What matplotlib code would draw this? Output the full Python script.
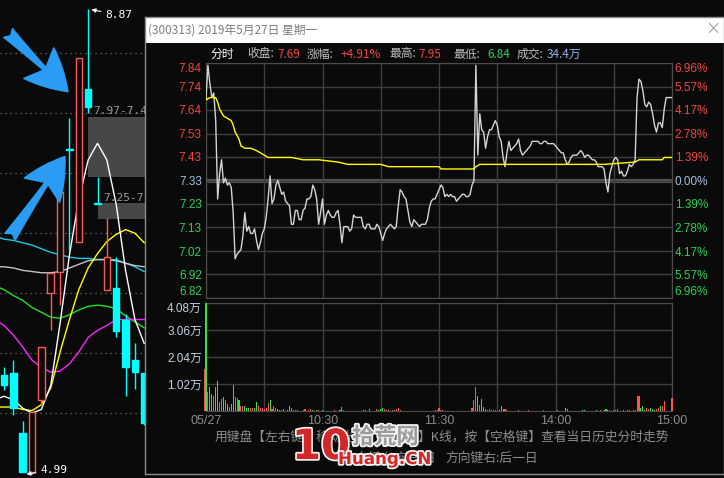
import numpy as np
import matplotlib
matplotlib.use("Agg")
import matplotlib.pyplot as plt
from matplotlib.patches import Rectangle
import matplotlib.patheffects as pe

plt.rcParams['font.family'] = ['Noto Sans CJK SC', 'DejaVu Sans']

BG = '#0a0a0a'
RED = '#f04646'
GREEN = '#2fd05a'
CYAN = '#00ffff'
GRID = '#3e3e3e'
NUM_FONT = ['Liberation Sans', 'Noto Sans CJK SC']

# ---------------- left daily K chart ----------------
k_open = [5.82, 5.83, 5.33, 5.01, 5.61, 6.50, 6.68, 7.70, 6.93, 8.20, 7.25, 6.53, 6.54, 6.28, 5.94, 5.83]
k_close = [5.73, 5.54, 5.01, 5.51, 6.05, 6.67, 7.34, 7.69, 8.46, 8.05, 7.24, 6.80, 6.18, 5.88, 5.84, 5.42]
k_high = [5.88, 5.94, 5.43, 5.51, 6.05, 6.67, 7.34, 7.96, 8.46, 8.87, 7.47, 7.13, 6.80, 6.33, 6.08, 5.83]
k_low = [5.69, 5.48, 5.01, 4.99, 5.57, 6.19, 6.40, 6.85, 6.93, 8.00, 7.24, 6.53, 6.13, 5.64, 5.70, 5.40]
k_grid = [8.5, 8.0, 7.5, 7.0, 6.5, 6.0, 5.5]

# moving averages, candle index -1 .. 15
ma_x = list(range(-1, 16))
ma_cyan = [6.98, 6.95, 6.94, 6.92, 6.90, 6.87, 6.84, 6.82, 6.80, 6.79, 6.79, 6.78, 6.78, 6.78, 6.75, 6.72, 6.68]
ma_gray = [6.72, 6.72, 6.71, 6.69, 6.68, 6.67, 6.67, 6.68, 6.71, 6.74, 6.77, 6.78, 6.78, 6.77, 6.75, 6.73, 6.72]
ma_green = [6.56, 6.53, 6.48, 6.44, 6.38, 6.34, 6.30, 6.29, 6.32, 6.36, 6.39, 6.40, 6.39, 6.37, 6.31, 6.26, 6.21]
ma_magenta = [6.28, 6.23, 6.15, 6.05, 5.94, 5.88, 5.84, 5.85, 5.91, 6.01, 6.13, 6.19, 6.23, 6.28, 6.28, 6.28, 6.28]
ma_yellow = [5.55, 5.55, 5.55, 5.53, 5.52, 5.57, 5.71, 6.01, 6.28, 6.53, 6.71, 6.83, 6.93, 6.99, 7.03, 7.00, 6.92]
ma_white = [5.61, 5.64, 5.61, 5.54, 5.50, 5.53, 5.73, 6.25, 6.82, 7.28, 7.61, 7.75, 7.61, 7.24, 6.69, 6.28, 6.08]

# ---------------- intraday (minute 0 = 09:30, 240 = 15:00) ----------------
prev_close = 7.33
price = [
    7.69, 7.83, 7.75, 7.69, 7.71, 7.59, 7.25, 7.36, 7.42, 7.32,
    7.34, 7.31, 7.32, 7.30, 7.19, 6.99, 7.01, 7.02, 7.03, 7.09,
    7.19, 7.11, 7.13, 7.10, 7.10, 7.12, 7.07, 7.03, 7.06, 7.10,
    7.12, 7.17, 7.25, 7.35, 7.23, 7.25, 7.31, 7.33, 7.30, 7.27,
    7.28, 7.24, 7.23, 7.22, 7.14, 7.14, 7.20, 7.20, 7.16, 7.16,
    7.20, 7.21, 7.25, 7.25, 7.26, 7.31, 7.29, 7.25, 7.14, 7.19,
    7.25, 7.14, 7.18, 7.20, 7.18, 7.17, 7.17, 7.19, 7.20, 7.14,
    7.06, 7.13, 7.13, 7.13, 7.11, 7.12, 7.18, 7.17, 7.17, 7.17,
    7.17, 7.13, 7.12, 7.14, 7.14, 7.12, 7.12, 7.12, 7.14, 7.13,
    7.10, 7.07, 7.10, 7.12, 7.13, 7.14, 7.13, 7.12, 7.13, 7.22,
    7.29, 7.28, 7.26, 7.25, 7.20, 7.15, 7.13, 7.16, 7.15, 7.14,
    7.13, 7.14, 7.14, 7.14, 7.16, 7.21, 7.24, 7.25, 7.25, 7.27,
    7.29, 7.31, 7.30, 7.26, 7.27, 7.26, 7.27, 7.26, 7.26, 7.24,
    7.25, 7.26, 7.27, 7.27, 7.26, 7.26, 7.27, 7.31, 7.33, 7.83,
    7.44, 7.62, 7.55, 7.54, 7.47, 7.52, 7.55, 7.55, 7.57, 7.59,
    7.57, 7.52, 7.50, 7.43, 7.39, 7.45, 7.50, 7.46, 7.47, 7.48,
    7.49, 7.51, 7.46, 7.44, 7.45, 7.46, 7.47, 7.48, 7.50, 7.50,
    7.50, 7.50, 7.49, 7.49, 7.50, 7.50, 7.49, 7.49, 7.49, 7.49,
    7.48, 7.47, 7.46, 7.45, 7.45, 7.42, 7.40, 7.41, 7.43, 7.44,
    7.44, 7.44, 7.45, 7.46, 7.45, 7.43, 7.44, 7.44, 7.43, 7.42,
    7.42, 7.41, 7.39, 7.39, 7.39, 7.38, 7.32, 7.28, 7.36, 7.39,
    7.42, 7.43, 7.42, 7.36, 7.37, 7.35, 7.35, 7.37, 7.40, 7.39,
    7.40, 7.42, 7.69, 7.77, 7.76, 7.72, 7.66, 7.65, 7.67, 7.66,
    7.62, 7.57, 7.54, 7.58, 7.58, 7.56, 7.64, 7.69, 7.69, 7.69,
    7.69,
]
avg_min = [0, 0.3, 2, 5, 6, 7, 9, 11, 13, 14, 15, 17, 18, 20, 23, 26, 28, 30, 32, 37,
           44, 50, 58, 68, 73, 84, 90, 94, 104, 120, 121, 138, 139, 141, 142, 165, 166,
           180, 205, 221, 223, 225, 229, 235, 236, 240]
avg_price = [7.69, 7.68, 7.69, 7.69, 7.67, 7.64, 7.61, 7.60, 7.59, 7.57, 7.54, 7.51, 7.48,
             7.47, 7.47, 7.46, 7.45, 7.44, 7.43, 7.43, 7.43, 7.42, 7.42, 7.41, 7.40, 7.40,
             7.40, 7.39, 7.39, 7.39, 7.38, 7.38, 7.39, 7.40, 7.40, 7.40, 7.40, 7.40, 7.40,
             7.41, 7.42, 7.42, 7.42, 7.42, 7.43, 7.43]

# volume in 万 shares; up = 1 red, 0 green
auction_vol = 1.59
vol_min = [0, 1, 2, 3, 4, 5, 6, 7, 8, 9, 10, 11, 12, 13, 14, 15, 16, 17, 18, 19,
           20, 21, 22, 23, 24, 25, 26, 27, 28, 29, 30, 31, 32, 33, 34, 35, 36, 37, 38, 39,
           40, 42, 43, 44, 45, 46, 47, 50, 51, 53, 54, 55, 57, 58, 60, 66, 69, 70, 71, 81,
           82, 84, 88, 89, 90, 91, 92, 93, 94, 96, 97, 98, 99, 100, 118, 119, 120, 121, 122, 137,
           138, 139, 140, 141, 142, 143, 144, 145, 146, 147, 148, 149, 151, 152, 153, 154, 155, 161, 166, 174,
           181, 185, 186, 194, 195, 201, 203, 205, 206, 207, 208, 210, 211, 212, 215, 217, 218, 220, 221, 222,
           223, 224, 225, 226, 227, 228, 229, 230, 231, 232, 233, 234, 235, 236, 240]
vol_val = [4.08, 0.72, 0.91, 0.64, 0.57, 0.91, 1.13, 0.34, 0.45, 0.53, 0.42, 0.26, 0.15, 0.26, 0.98, 0.53, 0.49, 0.42, 0.19, 0.19,
           0.19, 0.11, 0.11, 0.11, 0.11, 0.11, 0.34, 0.19, 0.11, 0.11, 0.08, 0.11, 0.30, 0.42, 0.08, 0.19, 0.11, 0.08, 0.04, 0.04,
           0.08, 0.04, 0.19, 0.11, 0.04, 0.04, 0.04, 0.04, 0.08, 0.04, 0.08, 0.04, 0.04, 0.04, 0.04, 0.04, 0.04, 0.15, 0.04, 0.04,
           0.04, 0.08, 0.08, 0.04, 0.08, 0.11, 0.08, 0.04, 0.04, 0.04, 0.04, 0.08, 0.11, 0.04, 0.04, 0.04, 0.11, 0.04, 0.04, 0.11,
           0.42, 0.91, 0.57, 0.23, 0.45, 0.15, 0.08, 0.04, 0.08, 0.04, 0.04, 0.04, 0.04, 0.19, 0.08, 0.08, 0.04, 0.04, 0.04, 0.04,
           0.04, 0.11, 0.08, 0.04, 0.04, 0.04, 0.04, 0.04, 0.08, 0.04, 0.04, 0.04, 0.04, 0.08, 0.04, 0.04, 0.04, 0.04, 0.04, 0.57,
           0.57, 0.11, 0.19, 0.04, 0.11, 0.08, 0.11, 0.08, 0.04, 0.08, 0.11, 0.19, 0.19, 0.38, 0.49]
vol_up = [0, 1, 0, 0, 1, 0, 0, 1, 1, 0, 1, 0, 1, 0, 0, 1, 1, 0, 1, 1,
          0, 0, 0, 1, 1, 0, 0, 1, 1, 1, 1, 1, 1, 0, 1, 1, 1, 0, 0, 1,
          0, 0, 0, 1, 1, 1, 0, 1, 1, 1, 1, 0, 0, 1, 0, 1, 0, 0, 1, 0,
          0, 0, 1, 0, 0, 0, 1, 1, 1, 0, 1, 1, 1, 1, 1, 1, 1, 1, 1, 1,
          1, 1, 0, 1, 0, 0, 0, 1, 1, 1, 1, 1, 0, 0, 0, 1, 1, 1, 1, 1,
          0, 0, 1, 0, 0, 0, 1, 0, 0, 0, 1, 1, 1, 1, 0, 1, 1, 1, 1, 1,
          1, 0, 0, 0, 1, 1, 0, 0, 0, 1, 1, 0, 1, 1, 1]

left_labels = ['7.84', '7.74', '7.64', '7.53', '7.43', '7.33', '7.23', '7.13', '7.02', '6.92', '6.82']
right_labels = ['6.96%', '5.57%', '4.17%', '2.78%', '1.39%', '0.00%', '1.39%', '2.78%', '4.17%', '5.57%', '6.96%']
vol_ticks = [1.02, 2.04, 3.06, 4.08]
vol_labels = ['1.02万', '2.04万', '3.06万', '4.08万']
time_labels = ['05/27', '', '10:30', '', '11:30', '', '14:00', '', '15:00']

W, H = 724, 478


def px_rect(x0, y0, x1, y1):
    return [x0 / W, 1 - y1 / H, (x1 - x0) / W, (y1 - y0) / H]


def ftext(x, y, s, **kw):
    kw.setdefault('va', 'center')
    kw.setdefault('fontsize', 8.5)
    return fig.text(x / W, 1 - y / H, s, **kw)


fig = plt.figure(figsize=(W / 100, H / 100), dpi=100, facecolor=BG)

# ===== left candlestick chart =====
axk = fig.add_axes(px_rect(0, 0, 145, 478))
axk.set_facecolor(BG)
axk.set_xlim(-0.43, 15.08)
axk.set_ylim(4.958, 8.945)
axk.axis('off')
axk.set_zorder(0)
for lv in k_grid:
    axk.axhline(lv, color='#6e6e6e', lw=0.9, ls=(0, (1, 3)), zorder=1)

axk.add_patch(Rectangle((9, 7.47), 10, 0.50, facecolor='#474747', edgecolor='none', zorder=1.5))
axk.add_patch(Rectangle((10, 7.12), 10, 0.13, facecolor='#474747', edgecolor='none', zorder=1.5))
axk.text(9.5, 7.975, '7.97-7.47', color='#9a9a9a', fontsize=8, family='DejaVu Sans Mono',
         va='bottom', ha='left', zorder=2)
axk.text(10.6, 7.255, '7.25-7.12', color='#9a9a9a', fontsize=8, family='DejaVu Sans Mono',
         va='bottom', ha='left', zorder=2)

for x, ys, c in [(ma_x, ma_cyan, '#1cc8e6'), (ma_x, ma_gray, '#c4c4c4'),
                 (ma_x, ma_green, '#22e022'), (ma_x, ma_magenta, '#ff22ff'),
                 (ma_x, ma_yellow, '#ffff00'), (ma_x, ma_white, '#ffffff')]:
    axk.plot(x, ys, color=c, lw=1.0, zorder=3)

bw = 0.7
for i, (o, c, h, l) in enumerate(zip(k_open, k_close, k_high, k_low)):
    up = c >= o
    col = '#ff5a5a' if up else CYAN
    axk.vlines(i, l, h, color=col, lw=1.0, zorder=4)
    lo, hi = min(o, c), max(o, c)
    axk.add_patch(Rectangle((i - bw / 2, lo), bw, max(hi - lo, 0.012),
                            facecolor=BG if up else CYAN, edgecolor=col, lw=1.0, zorder=5))

arrow_kw = dict(arrowstyle='fancy,head_length=1.05,head_width=1.1,tail_width=0.32',
                color='#2b9cf3', shrinkA=0, shrinkB=0, mutation_scale=28)
axk.annotate('', xy=(6.84, 8.18), xytext=(0.43, 8.67), arrowprops=arrow_kw, zorder=6)
axk.annotate('', xy=(6.52, 7.64), xytext=(0.64, 6.97), arrowprops=arrow_kw, zorder=6)

axk.annotate('8.87', xy=(9.35, 8.865), xytext=(10.8, 8.82), color='white', fontsize=8,
             family='DejaVu Sans Mono', va='center',
             arrowprops=dict(arrowstyle='-|>', color='white', lw=0.8, shrinkA=1, shrinkB=0,
                             mutation_scale=6), zorder=7)
axk.annotate('4.99', xy=(2.4, 4.99), xytext=(3.85, 5.025), color='white', fontsize=8,
             family='DejaVu Sans Mono', va='center',
             arrowprops=dict(arrowstyle='-|>', color='white', lw=0.8, shrinkA=1, shrinkB=0,
                             mutation_scale=6), zorder=7)

# ===== popup window =====
axp = fig.add_axes(px_rect(145, 17, 724, 474))
axp.set_zorder(1)
axp.set_facecolor(BG)
axp.set_xticks([])
axp.set_yticks([])
for s in axp.spines.values():
    s.set_color('#8c8c8c')
    s.set_linewidth(1)
axp.add_patch(Rectangle((0, (474 - 43) / 457), 1, 26 / 457, transform=axp.transAxes,
                        facecolor='white', edgecolor='none'))

ftext(148, 30, '(300313) 2019年5月27日 星期一', color='#7c7c7c', zorder=4)
ftext(713, 29, '×', color='#9a9a9a', fontsize=11, ha='center', zorder=4)

hdr_y = 54
header = [(210, '分时', 'white'), (247, '收盘:', '#bdbdbd'), (277, '7.69', RED),
          (307, '涨幅:', '#bdbdbd'), (341, '+4.91%', RED), (389, '最高:', '#bdbdbd'),
          (418, '7.95', RED), (453, '最低:', '#bdbdbd'), (487, '6.84', GREEN),
          (517, '成交:', '#bdbdbd'), (547, '34.4万', '#8fb4e6')]
for x, s, c in header:
    ftext(x, hdr_y, s, color=c, ha='left', zorder=4)

# ===== price panel =====
axpr = fig.add_axes(px_rect(206, 63, 672, 298))
axpr.set_zorder(2)
axpr.set_facecolor(BG)
step = (7.84 - prev_close) / 5
levels = [prev_close + k * step for k in range(5, -6, -1)]
axpr.set_xlim(0, 240)
axpr.set_ylim(levels[-1], levels[0])
axpr.set_yticks(levels)
axpr.set_yticklabels(left_labels)
axpr.set_xticks(range(0, 241, 30))
axpr.set_xticklabels([])
axpr.grid(True, color=GRID, lw=1)
axpr.axhline(prev_close, color='#535353', lw=3, zorder=1)
axpr.tick_params(length=0, pad=3, labelsize=8.5)


def color_for(i, n):
    mid = n // 2
    if i < mid:
        return RED
    if i == mid:
        return '#a7bde0'
    return GREEN


for i, t in enumerate(axpr.get_yticklabels()):
    t.set_color(color_for(i, len(levels)))
    t.set_family(NUM_FONT)
axpr.get_yticklabels()[0].set_va('top')
axpr.get_yticklabels()[-1].set_va('bottom')
for s in axpr.spines.values():
    s.set_color('#4c4c4c')

axr = axpr.twinx()
axr.set_zorder(2)
axr.set_ylim(levels[-1], levels[0])
axr.set_yticks(levels)
axr.set_yticklabels(right_labels)
axr.tick_params(length=0, pad=2, labelsize=8.5)
for i, t in enumerate(axr.get_yticklabels()):
    t.set_color(color_for(i, len(levels)))
    t.set_family(NUM_FONT)
axr.get_yticklabels()[0].set_va('top')
axr.get_yticklabels()[-1].set_va('bottom')
for s in axr.spines.values():
    s.set_visible(False)

axpr.plot(range(len(price)), price, color='#d4d4d4', lw=1, zorder=3)
axpr.plot(avg_min, avg_price, color='#ffff00', lw=1, zorder=3)

# ===== volume panel =====
axv = fig.add_axes(px_rect(206, 303, 672, 411))
axv.set_zorder(2)
axv.set_facecolor(BG)
axv.set_xlim(0, 240)
axv.set_ylim(0, 4.08)
axv.set_yticks(vol_ticks)
axv.set_yticklabels(vol_labels)
axv.set_xticks(range(0, 241, 30))
axv.set_xticklabels(time_labels)
axv.grid(True, color=GRID, lw=1)
axv.tick_params(length=0, labelsize=8.5)
axv.tick_params(axis='y', pad=3)
axv.tick_params(axis='x', pad=3, labelsize=9)
for t in axv.get_yticklabels():
    t.set_color('#c4cfe0')
    t.set_family(NUM_FONT)
axv.get_yticklabels()[-1].set_va('top')
for t in axv.get_xticklabels():
    t.set_color('#8a8a8a')
    t.set_family(NUM_FONT)
for s in axv.spines.values():
    s.set_color('#4c4c4c')

bar_colors = ['#ff5252' if u else '#35dd55' for u in vol_up]
axv.bar(vol_min, vol_val, width=0.55, color=bar_colors, zorder=3, clip_on=False)
axv.bar([-0.6], [auction_vol], width=0.55, color='#ff5252', zorder=3, clip_on=False)

# ===== bottom hint text =====
ftext(215, 437, '用键盘【左右键】移动光标，【切换】K线，按【空格键】查看当日历史分时走势',
      color='#8c8c8c', fontsize=9.2, ha='left', zorder=4)
ftext(436, 458, '方向键左:前一日', color='#8c8c8c', fontsize=9.2, ha='right', zorder=4)
ftext(445, 458, '方向键右:后一日', color='#8c8c8c', fontsize=9.2, ha='left', zorder=4)

# ===== watermark =====
wm_stroke = [pe.withStroke(linewidth=2.5, foreground='#f2f2f2')]
ftext(292, 447, '10', color='#d42828', fontsize=30, fontweight='bold', family='DejaVu Sans',
      ha='left', zorder=10, path_effects=wm_stroke)
ftext(352, 437, '拾荒网', color='#9c9c9c', fontsize=16, fontweight='bold', ha='left',
      zorder=10, path_effects=wm_stroke)
ftext(338, 459, 'Huang.CN', color='#d42828', fontsize=12, fontweight='bold',
      family='DejaVu Sans', ha='left', zorder=10, path_effects=wm_stroke)

fig.savefig('out.png', dpi=100, facecolor=BG)
